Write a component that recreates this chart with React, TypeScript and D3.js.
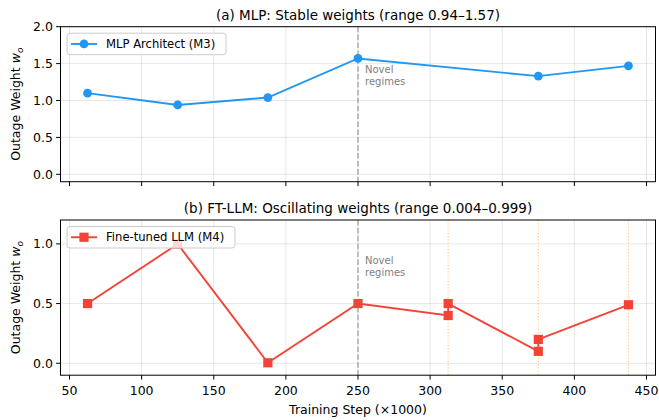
import React from "react";
import * as d3 from "d3";

const mlpSteps = [62.5, 125, 187.5, 250, 375, 437.5];
const mlpWeights = [1.1, 0.94, 1.04, 1.57, 1.33, 1.47];
const llmSteps = [62.5, 125, 187.5, 250, 312.5, 312.5, 375, 375, 437.5];
const llmWeights = [0.5, 0.999, 0.004, 0.5, 0.4, 0.5, 0.1, 0.2, 0.49];
const xTicks = [50, 100, 150, 200, 250, 300, 350, 400, 450];
const topYTicks = [0, 0.5, 1.0, 1.5, 2.0];
const botYTicks = [0, 0.5, 1.0];
const oscillationSteps = [312.5, 375, 437.5];
const novelStep = 250;
const titleTop = "(a) MLP: Stable weights (range 0.94–1.57)";
const titleBot = "(b) FT-LLM: Oscillating weights (range 0.004–0.999)";
const legendTop = "MLP Architect (M3)";
const legendBot = "Fine-tuned LLM (M4)";

const W = 659, H = 420;
const L = 60.5, R = 655.5;
const FONT = "DejaVu Sans, sans-serif";
const BLUE = "#2196F3";
const RED = "#F44336";

const x = d3.scaleLinear().domain([43.75, 456.25]).range([L, R]);

function Panel({ top, bottom, yDomain, yTicks, steps, vals, color, marker, title, legend, showXLabels, orange }: any) {
  const y = d3.scaleLinear().domain(yDomain).range([bottom, top]);
  const line = d3.line<number>().x((_, i) => x(steps[i])).y((d) => y(d));
  const pts = vals.map((v: number, i: number) => [x(steps[i]), y(v)]);
  const legW = legend === legendTop ? 159 : 168;
  const legX = 67, legY = top + 6.5, legH = 21.5;
  return (
    <g>
      {xTicks.map((t) => (
        <line key={"gx" + t} x1={x(t)} x2={x(t)} y1={top} y2={bottom} stroke="#b0b0b0" strokeOpacity={0.3} strokeWidth={1} />
      ))}
      {yTicks.map((t: number) => (
        <line key={"gy" + t} x1={L} x2={R} y1={y(t)} y2={y(t)} stroke="#b0b0b0" strokeOpacity={0.3} strokeWidth={1} />
      ))}
      <line x1={x(novelStep)} x2={x(novelStep)} y1={top} y2={bottom} stroke="#808080" strokeOpacity={0.6} strokeWidth={1.5} strokeDasharray="5.5,2.4" />
      {orange && oscillationSteps.map((s) => (
        <line key={"o" + s} x1={x(s)} x2={x(s)} y1={top} y2={bottom} stroke="#FF9800" strokeOpacity={0.5} strokeWidth={1.2} strokeDasharray="1.2,2" />
      ))}
      <text x={x(novelStep) + 7} y={y(yDomain[1]) + (marker === "circle" ? 46 : 44)} fontSize={10} fill="#808080" fontFamily={FONT}>Novel</text>
      <text x={x(novelStep) + 7} y={y(yDomain[1]) + (marker === "circle" ? 58 : 56)} fontSize={10} fill="#808080" fontFamily={FONT}>regimes</text>
      <path d={line(vals) || ""} fill="none" stroke={color} strokeWidth={1.9} />
      {pts.map((p: number[], i: number) =>
        marker === "circle" ? (
          <circle key={i} cx={p[0]} cy={p[1]} r={4.4} fill={color} />
        ) : (
          <rect key={i} x={p[0] - 4.6} y={p[1] - 4.6} width={9.2} height={9.2} fill={color} />
        )
      )}
      <rect x={L} y={top} width={R - L} height={bottom - top} fill="none" stroke="#000" strokeWidth={1} />
      {xTicks.map((t) => (
        <g key={"tx" + t}>
          <line x1={x(t)} x2={x(t)} y1={bottom} y2={bottom + 4.4} stroke="#000" strokeWidth={1} />
          {showXLabels && (
            <text x={x(t)} y={bottom + 19.5} textAnchor="middle" fontSize={12.5} fontFamily={FONT} fill="#000">{t}</text>
          )}
        </g>
      ))}
      {yTicks.map((t: number) => (
        <g key={"ty" + t}>
          <line x1={L - 4.4} x2={L} y1={y(t)} y2={y(t)} stroke="#000" strokeWidth={1} />
          <text x={L - 7.5} y={y(t) + 4.5} textAnchor="end" fontSize={12.5} fontFamily={FONT} fill="#000">{t.toFixed(1)}</text>
        </g>
      ))}
      <text x={(L + R) / 2} y={top - 7} textAnchor="middle" fontSize={13.5} fontFamily={FONT} fill="#000">{title}</text>
      <text transform={`translate(${20}, ${(top + bottom) / 2}) rotate(-90)`} textAnchor="middle" fontSize={12.5} fontFamily={FONT} fill="#000">
        Outage Weight <tspan fontStyle="italic">w</tspan><tspan fontStyle="italic" fontSize={9} dy={3}>o</tspan>
      </text>
      <rect x={legX} y={legY} width={legW} height={legH} rx={3} fill="#fff" fillOpacity={0.8} stroke="#cccccc" strokeWidth={1} />
      <line x1={legX + 4} x2={legX + 30} y1={legY + legH / 2} y2={legY + legH / 2} stroke={color} strokeWidth={1.9} />
      {marker === "circle" ? (
        <circle cx={legX + 17} cy={legY + legH / 2} r={4.4} fill={color} />
      ) : (
        <rect x={legX + 17 - 4.6} y={legY + legH / 2 - 4.6} width={9.2} height={9.2} fill={color} />
      )}
      <text x={legX + 39} y={legY + legH / 2 + 4} fontSize={11.6} fontFamily={FONT} fill="#000">{legend}</text>
    </g>
  );
}

export default function App() {
  return (
    <svg width={W} height={H} style={{ display: "block", position: "absolute", left: 0, top: 0 }}>
      <rect width={W} height={H} fill="#fff" />
      <Panel top={26.7} bottom={181.7} yDomain={[-0.1, 2.0]} yTicks={topYTicks} steps={mlpSteps} vals={mlpWeights}
        color={BLUE} marker="circle" title={titleTop} legend={legendTop} showXLabels={false} orange={false} />
      <Panel top={220} bottom={375.2} yDomain={[-0.1, 1.2]} yTicks={botYTicks} steps={llmSteps} vals={llmWeights}
        color={RED} marker="square" title={titleBot} legend={legendBot} showXLabels={true} orange={true} />
      <text x={(L + R) / 2} y={413.5} textAnchor="middle" fontSize={12.5} fontFamily={FONT} fill="#000">Training Step (×1000)</text>
    </svg>
  );
}
